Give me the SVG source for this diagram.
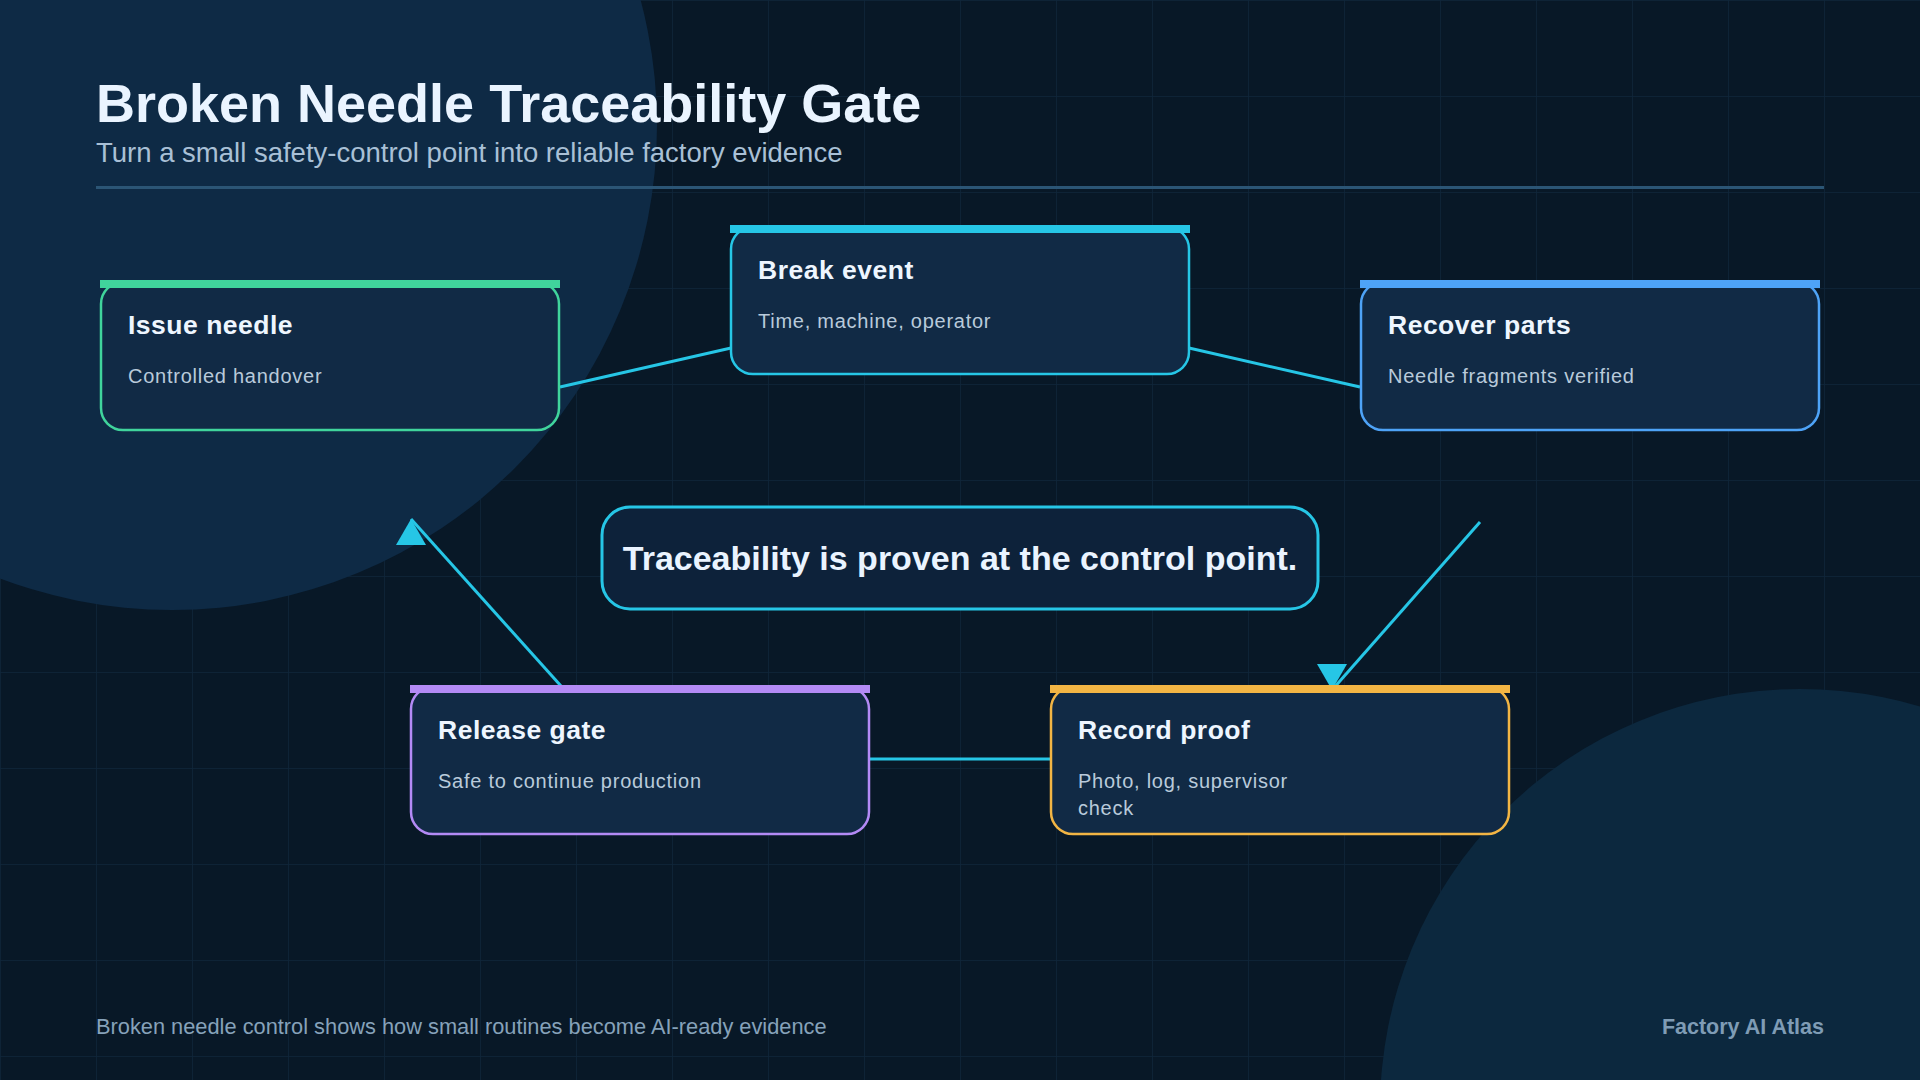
<svg xmlns="http://www.w3.org/2000/svg" width="1920" height="1080" viewBox="0 0 1920 1080">
  <defs>
    <pattern id="grid" width="96" height="96" patternUnits="userSpaceOnUse">
      <path d="M96 0 L0 0 L0 96" fill="none" stroke="#10263a" stroke-width="1.5"/>
    </pattern>
    <marker id="arrUp" viewBox="0 0 30 26" refX="15" refY="0" markerWidth="30" markerHeight="26" markerUnits="userSpaceOnUse" orient="0">
      <path d="M15 0 L30 26 L0 26 Z" fill="#26c6e6"/>
    </marker>
    <marker id="arrDown" viewBox="0 0 30 26" refX="15" refY="26" markerWidth="30" markerHeight="26" markerUnits="userSpaceOnUse" orient="0">
      <path d="M0 0 L30 0 L15 26 Z" fill="#26c6e6"/>
    </marker>
    <style>
      .card { fill: #112a45; stroke-width: 2.5; }
      .ttl { font-family: "Liberation Sans", Arial, sans-serif; font-weight: 700; font-size: 26.5px; fill: #eef6ff; letter-spacing: 0.5px; }
      .sub { font-family: "Liberation Sans", Arial, sans-serif; font-size: 20px; fill: #b9cadb; letter-spacing: 0.75px; }
      .conn { stroke: #26c6e6; stroke-width: 3; fill: none; }
    </style>
  </defs>

  <rect x="0" y="0" width="1920" height="1080" fill="#081827"/>
  <rect x="0" y="0" width="1920" height="1080" fill="url(#grid)"/>
  <circle cx="172" cy="125" r="485" fill="#0e2a45"/>
  <circle cx="1800" cy="1109" r="420" fill="#0c283e"/>

  <text x="96" y="122" font-family="'Liberation Sans', Arial, sans-serif" font-weight="700" font-size="54" fill="#eaf4ff">Broken Needle Traceability Gate</text>
  <text x="96" y="162" font-family="'Liberation Sans', Arial, sans-serif" font-size="27.5" fill="#a9c0d6">Turn a small safety-control point into reliable factory evidence</text>
  <line x1="96" y1="187.5" x2="1824" y2="187.5" stroke="#2b5575" stroke-width="3"/>

  <g id="connectors">
    <line class="conn" x1="560" y1="387" x2="731" y2="348"/>
    <line class="conn" x1="1189" y1="348" x2="1360" y2="387"/>
    <line class="conn" x1="1480" y1="522" x2="1332" y2="690" marker-end="url(#arrDown)"/>
    <line class="conn" x1="869" y1="759" x2="1051" y2="759"/>
    <line class="conn" x1="561" y1="686" x2="411" y2="519" marker-end="url(#arrUp)"/>
  </g>

  <g id="node-issue-needle">
    <rect class="card" x="101" y="282" width="458" height="148" rx="22" stroke="#40d49c"/>
    <rect x="100" y="280" width="460" height="8" fill="#40d49c"/>
    <text class="ttl" x="128" y="334">Issue needle</text>
    <text class="sub" x="128" y="383">Controlled handover</text>
  </g>

  <g id="node-break-event">
    <rect class="card" x="731" y="227" width="458" height="147" rx="22" stroke="#26c6e6"/>
    <rect x="730" y="225" width="460" height="8" fill="#26c6e6"/>
    <text class="ttl" x="758" y="279">Break event</text>
    <text class="sub" x="758" y="328">Time, machine, operator</text>
  </g>

  <g id="node-recover-parts">
    <rect class="card" x="1361" y="282" width="458" height="148" rx="22" stroke="#4ea3f7"/>
    <rect x="1360" y="280" width="460" height="8" fill="#4ea3f7"/>
    <text class="ttl" x="1388" y="334">Recover parts</text>
    <text class="sub" x="1388" y="383">Needle fragments verified</text>
  </g>

  <g id="node-release-gate">
    <rect class="card" x="411" y="687" width="458" height="147" rx="22" stroke="#b38af5"/>
    <rect x="410" y="685" width="460" height="8" fill="#b38af5"/>
    <text class="ttl" x="438" y="739">Release gate</text>
    <text class="sub" x="438" y="788">Safe to continue production</text>
  </g>

  <g id="node-record-proof">
    <rect class="card" x="1051" y="687" width="458" height="147" rx="22" stroke="#f2b544"/>
    <rect x="1050" y="685" width="460" height="8" fill="#f2b544"/>
    <text class="ttl" x="1078" y="739">Record proof</text>
    <text class="sub" x="1078" y="788">Photo, log, supervisor</text>
    <text class="sub" x="1078" y="815">check</text>
  </g>

  <g id="callout">
    <rect x="602" y="507" width="716" height="102" rx="28" fill="#0d223a" stroke="#26c6e6" stroke-width="3"/>
    <text x="960" y="570" text-anchor="middle" font-family="'Liberation Sans', Arial, sans-serif" font-weight="700" font-size="34" fill="#eaf4ff">Traceability is proven at the control point.</text>
  </g>

  <text x="96" y="1034" font-family="'Liberation Sans', Arial, sans-serif" font-size="21.8" fill="#86a2ba">Broken needle control shows how small routines become AI-ready evidence</text>
  <text x="1824" y="1034" text-anchor="end" font-family="'Liberation Sans', Arial, sans-serif" font-weight="700" font-size="21.5" fill="#7f9cb5">Factory AI Atlas</text>
</svg>
